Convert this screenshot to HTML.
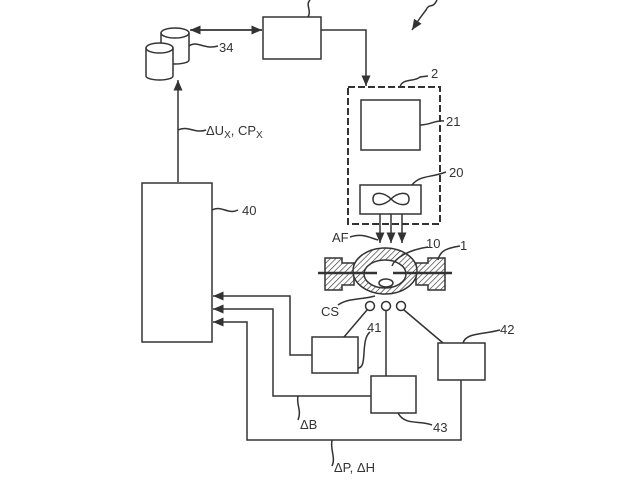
<!DOCTYPE html>
<html><head><style>
body{margin:0;background:#fff}
svg text{font-family:"Liberation Sans",sans-serif;font-size:13px;fill:#333}
</style></head><body>
<svg width="640" height="480" viewBox="0 0 640 480" xmlns="http://www.w3.org/2000/svg">
<defs>
<pattern id="h" width="4" height="4" patternUnits="userSpaceOnUse" patternTransform="rotate(45)">
<rect width="4" height="4" fill="#fff"/><line x1="0" y1="0" x2="0" y2="4" stroke="#333" stroke-width="1.3"/></pattern>
<marker id="a" markerWidth="8" markerHeight="8" refX="7" refY="4" orient="auto"><path d="M0,1 L7,4 L0,7 z" fill="#333"/></marker>
</defs>
<g fill="none" stroke="#333" stroke-width="1.5">
<rect x="263" y="17" width="58" height="42" fill="#fff"/>
<path d="M308,17 C312,10 305,5 310,0"/>
<!-- cylinders -->
<path d="M161,33 v27 a14,4 0 0 0 28,0 v-27"/><ellipse cx="175" cy="33" rx="14" ry="5" fill="#fff"/>
<rect x="146" y="50" width="27" height="28" fill="#fff" stroke="none"/>
<path d="M146,48 v28 a13.5,4 0 0 0 27,0 v-28"/><ellipse cx="159.5" cy="48" rx="13.5" ry="5" fill="#fff"/>
<line x1="191" y1="30" x2="262" y2="30" marker-end="url(#a)"/>
<line x1="262" y1="30" x2="190" y2="30" marker-end="url(#a)"/>
<path d="M189,46 C198,40 203,50 218,46"/>
<path d="M321,30 H366 V86" marker-end="url(#a)"/>
<path d="M437,0 C432,10 430,2 426,10 L420,18 L412,30" marker-end="url(#a)"/>
<rect x="348" y="87" width="92" height="137" stroke-dasharray="7,3" stroke-width="2"/>
<path d="M400,87 C402,78 415,82 420,77 L428,76"/>
<rect x="361" y="100" width="59" height="50"/>
<path d="M420,125 C430,125 435,120 444,121"/>
<rect x="360" y="185" width="61" height="29"/>
<path d="M373,199 C373,190 385,193 391,199 C397,205 409,208 409,199 C409,190 397,193 391,199 C385,205 373,208 373,199 z"/>
<path d="M412,185 C420,175 430,178 446,172"/>
<line x1="380" y1="214" x2="380" y2="243" marker-end="url(#a)"/>
<line x1="391" y1="214" x2="391" y2="243" marker-end="url(#a)"/>
<line x1="402" y1="214" x2="402" y2="243" marker-end="url(#a)"/>
<path d="M350,237 C362,233 368,237 378,240"/>
<!-- lamp -->
<path d="M325,258 h17 v5 h12 v22 h-12 v5 h-17 z" fill="url(#h)"/>
<path d="M445,258 h-17 v5 h-12 v22 h12 v5 h17 z" fill="url(#h)"/>
<ellipse cx="385" cy="271" rx="32" ry="23" fill="url(#h)"/>
<ellipse cx="385" cy="274" rx="21" ry="14" fill="#fff"/>
<line x1="318" y1="273" x2="377" y2="273" stroke-width="2.5"/>
<line x1="393" y1="273" x2="452" y2="273" stroke-width="2.5"/>
<ellipse cx="386" cy="283" rx="7" ry="4"/>
<path d="M392,266 C395,258 408,250 428,247"/>
<path d="M438,260 C440,250 448,248 460,246"/>
<path d="M338,305 C348,298 360,300 375,296"/>
<circle cx="370" cy="306" r="4.5"/><circle cx="386" cy="306" r="4.5"/><circle cx="401" cy="306" r="4.5"/>
<line x1="367" y1="310" x2="344" y2="337"/>
<line x1="386" y1="311" x2="386" y2="376"/>
<line x1="404" y1="310" x2="443" y2="343"/>
<rect x="312" y="337" width="46" height="36"/>
<path d="M358,368 C368,368 360,340 370,332"/>
<rect x="371" y="376" width="45" height="37"/>
<path d="M398,413 C405,426 420,420 432,425"/>
<rect x="438" y="343" width="47" height="37"/>
<path d="M463,343 C466,333 480,335 500,330"/>
<rect x="142" y="183" width="70" height="159"/>
<path d="M212,210 C222,205 228,215 238,210"/>
<line x1="178" y1="182" x2="178" y2="80" marker-end="url(#a)"/>
<path d="M178,130 C188,125 195,134 206,130"/>
<path d="M312,355 H290 V296 H213" marker-end="url(#a)"/>
<path d="M371,396 H273 V309 H213" marker-end="url(#a)"/>
<path d="M461,380 V440 H247 V322 H213" marker-end="url(#a)"/>
<path d="M298,396 C296,405 302,410 298,420"/>
<path d="M332,440 C330,450 336,458 332,466"/>
</g>
<text x="219" y="52">34</text>
<text x="431" y="78">2</text>
<text x="446" y="126">21</text>
<text x="449" y="177">20</text>
<text x="332" y="242">AF</text>
<text x="426" y="248">10</text>
<text x="460" y="250">1</text>
<text x="321" y="316">CS</text>
<text x="367" y="332">41</text>
<text x="500" y="334">42</text>
<text x="433" y="432">43</text>
<text x="242" y="215">40</text>
<text x="206" y="135">ΔU<tspan font-size="10" dy="3">X</tspan><tspan dy="-3">, CP</tspan><tspan font-size="10" dy="3">X</tspan></text>
<text x="300" y="429">ΔB</text>
<text x="334" y="472">ΔP, ΔH</text>
</svg>
</body></html>
